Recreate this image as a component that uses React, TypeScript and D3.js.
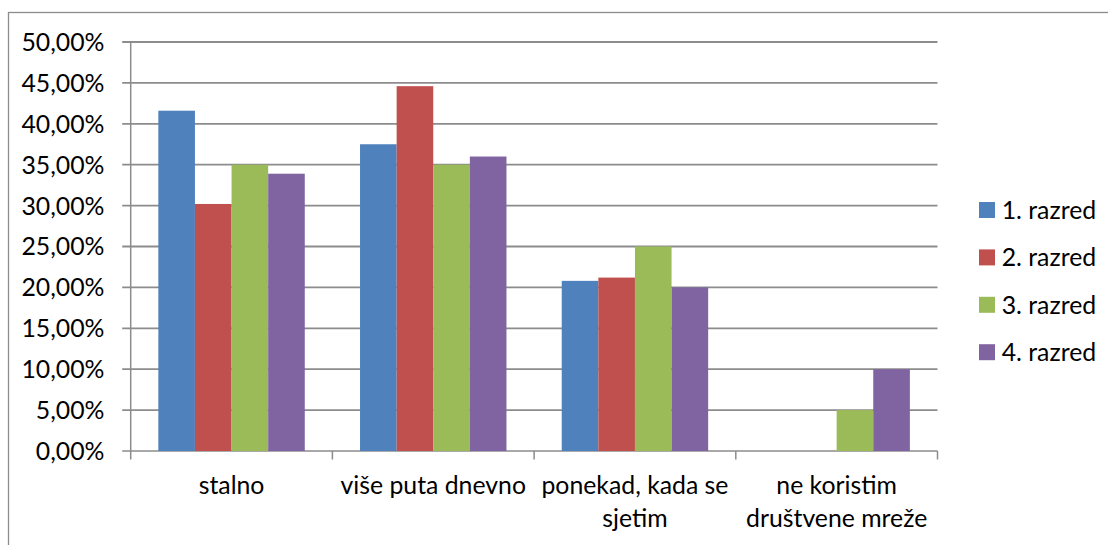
import React from "react";
import * as d3 from "d3";

const categories: string[][] = [
  ["stalno"],
  ["više puta dnevno"],
  ["ponekad, kada se", "sjetim"],
  ["ne koristim", "društvene mreže"],
];
const seriesNames = ["1. razred", "2. razred", "3. razred", "4. razred"];
const seriesColors = ["#4F81BD", "#C0504D", "#9BBB59", "#8064A2"];
const razred1 = [41.6, 37.5, 20.8, 0];
const razred2 = [30.2, 44.6, 21.2, 0];
const razred3 = [35.0, 35.0, 25.0, 5.0];
const razred4 = [33.9, 36.0, 20.0, 10.0];
const seriesValues = [razred1, razred2, razred3, razred4];
const yTicks = [0, 5, 10, 15, 20, 25, 30, 35, 40, 45, 50];

const W = 1108;
const H = 545;
const plotLeft = 130.7;
const plotRight = 937.5;
const plotTop = 42;
const plotBottom = 451;
const FONT = "Lato, 'Open Sans', sans-serif";
const FS = 24.8;
const GRID = "#8C8C8C";

export default function App() {
  const catIdx = categories.map((_, i) => String(i));
  const x = d3.scaleBand<string>().domain(catIdx).range([plotLeft, plotRight]).padding(0);
  const bw = x.bandwidth();
  const groupPad = bw * 0.137;
  const xs = d3
    .scaleBand<string>()
    .domain(seriesNames)
    .range([groupPad, bw - groupPad])
    .padding(0);
  const y = d3.scaleLinear().domain([0, 50]).range([plotBottom, plotTop]);
  const fmt = (v: number) => v.toFixed(2).replace(".", ",") + "%";

  const legendTop = 202;
  const legendStep = 47.4;

  return (
    <div style={{ position: "absolute", left: 0, top: 0 }}>
      <svg width={W} height={H} style={{ display: "block", fontFamily: FONT }}>
        <rect x={0} y={0} width={W} height={H} fill="#fff" />
        <rect x={8.5} y={12.5} width={W + 10} height={H + 10} fill="none" stroke={GRID} strokeWidth={1.3} />
        {/* gridlines */}
        {yTicks.map((t) => (
          <g key={"g" + t}>
            <line x1={plotLeft - 8.5} x2={plotRight} y1={y(t)} y2={y(t)} stroke={GRID} strokeWidth={t === 0 ? 1.5 : 1.8} />
            <text x={104.5} y={y(t)} dy="0.36em" textAnchor="end" fontSize={FS} fill="#000">
              {fmt(t)}
            </text>
          </g>
        ))}
        {/* y axis line */}
        <line x1={plotLeft} x2={plotLeft} y1={plotTop} y2={plotBottom} stroke={GRID} strokeWidth={1.5} />
        {/* category ticks */}
        {d3.range(categories.length + 1).map((i) => {
          const xx = plotLeft + i * bw;
          return <line key={"t" + i} x1={xx} x2={xx} y1={plotBottom} y2={plotBottom + 8.5} stroke={GRID} strokeWidth={1.5} />;
        })}
        {/* bars */}
        {seriesValues.map((vals, si) =>
          vals.map((v, ci) =>
            v > 0 ? (
              <rect
                key={`b${si}-${ci}`}
                x={(x(String(ci)) as number) + (xs(seriesNames[si]) as number)}
                y={y(v)}
                width={xs.bandwidth()}
                height={y(0) - y(v)}
                fill={seriesColors[si]}
              />
            ) : null
          )
        )}
        {/* category labels */}
        {categories.map((lines, ci) => (
          <text key={"c" + ci} textAnchor="middle" fontSize={FS} fill="#000">
            {lines.map((ln, li) => (
              <tspan key={li} x={(x(String(ci)) as number) + bw / 2} y={494 + li * 33}>
                {ln}
              </tspan>
            ))}
          </text>
        ))}
        {/* legend */}
        {seriesNames.map((name, i) => (
          <g key={"l" + i} transform={`translate(979, ${legendTop + i * legendStep})`}>
            <rect x={0} y={0} width={16} height={16} fill={seriesColors[i]} />
            <text x={22.7} y={8} dy="0.36em" fontSize={FS} fill="#000">
              {name}
            </text>
          </g>
        ))}
      </svg>
    </div>
  );
}
